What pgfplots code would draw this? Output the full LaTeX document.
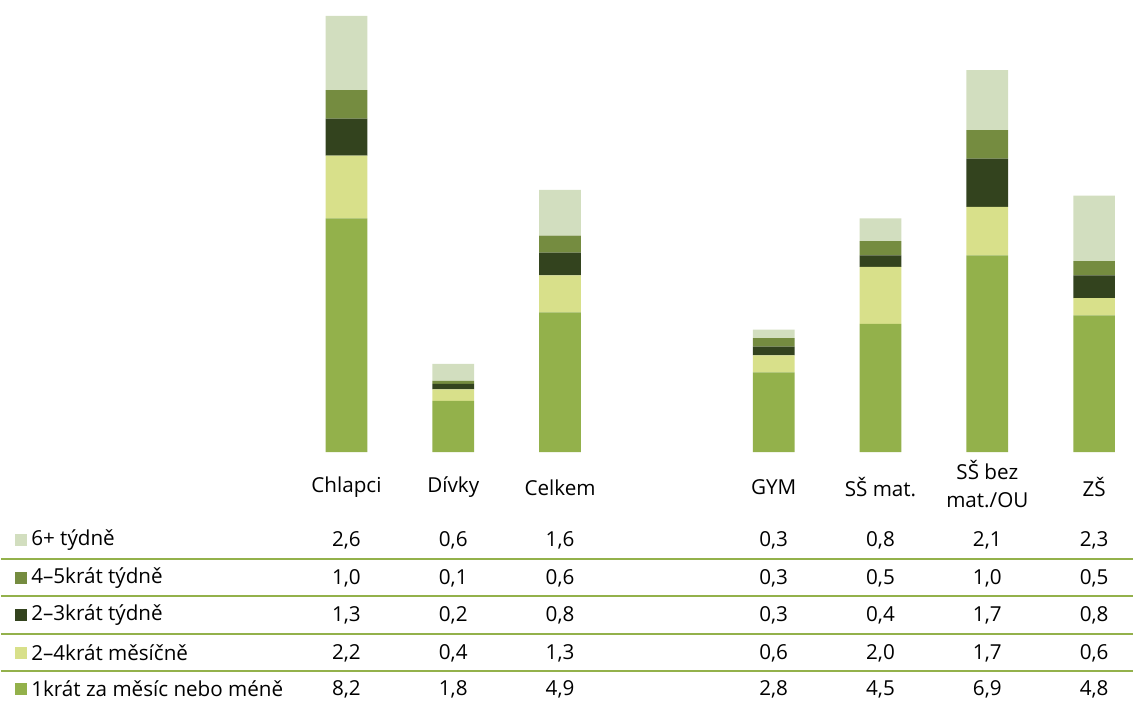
\documentclass[border=0pt]{standalone}
\usepackage{pgfplots}
\pgfplotsset{compat=1.18}
\usepackage{pgfplotstable}
\usepackage{fontspec}
\setmainfont{Open Sans}

\definecolor{cA}{HTML}{93B14B}
\definecolor{cB}{HTML}{D8E08A}
\definecolor{cC}{HTML}{33431E}
\definecolor{cD}{HTML}{758C40}
\definecolor{cE}{HTML}{D2DEBF}

\pgfplotstableread{
x a b c d e
0 8.2 2.2 1.3 1.0 2.6
1 1.8 0.4 0.2 0.1 0.6
2 4.9 1.3 0.8 0.6 1.6
4 2.8 0.6 0.3 0.3 0.3
5 4.5 2.0 0.4 0.5 0.8
6 6.9 1.7 1.7 1.0 2.1
7 4.8 0.6 0.8 0.5 2.3
}\data

\begin{document}
\fontsize{15.5}{21}\selectfont
\begin{tikzpicture}[font=\fontsize{15.5}{21}\selectfont]
\begin{axis}[at={(0,0)}, anchor=south west, scale only axis,
  width=850.5pt, height=339.75pt,
  xmin=-3.234, xmax=7.364, ymin=0, ymax=15.86,
  hide axis, ybar stacked, bar width=0.39, clip=false]
\path (rel axis cs:0,0) -- (rel axis cs:1,1);
\addplot[fill=cA, draw=none] table[x=x,y=a]{\data};
\addplot[fill=cB, draw=none] table[x=x,y=b]{\data};
\addplot[fill=cC, draw=none] table[x=x,y=c]{\data};
\addplot[fill=cD, draw=none] table[x=x,y=d]{\data};
\addplot[fill=cE, draw=none] table[x=x,y=e]{\data};
\end{axis}
\begin{axis}[at={(0,0)}, anchor=north west, scale only axis,
  width=850.5pt, height=184.5pt,
  xmin=-3.234, xmax=7.364, ymin=-8.61, ymax=0,
  hide axis, clip=false,
  /pgf/number format/.cd, use comma, fixed, fixed zerofill, precision=1, assume math mode=true,
  /pgfplots/.cd,
  every node near coord/.append style={anchor=center, font=\fontsize{15.5}{21}\selectfont}]
\path (rel axis cs:0,0) -- (rel axis cs:1,1);
\addplot[draw=none, mark=none, nodes near coords, point meta=explicit] table[x=x, y expr=-3.08, meta=e]{\data};
\addplot[draw=none, mark=none, nodes near coords, point meta=explicit] table[x=x, y expr=-4.41, meta=d]{\data};
\addplot[draw=none, mark=none, nodes near coords, point meta=explicit] table[x=x, y expr=-5.71, meta=c]{\data};
\addplot[draw=none, mark=none, nodes near coords, point meta=explicit] table[x=x, y expr=-7.04, meta=b]{\data};
\addplot[draw=none, mark=none, nodes near coords, point meta=explicit] table[x=x, y expr=-8.30, meta=a]{\data};
\draw[cA, line width=1.5pt] (axis cs:-3.234,-3.75) -- (axis cs:7.364,-3.75);
\draw[cA, line width=1.5pt] (axis cs:-3.234,-5.04) -- (axis cs:7.364,-5.04);
\draw[cA, line width=1.5pt] (axis cs:-3.234,-6.37) -- (axis cs:7.364,-6.37);
\draw[cA, line width=1.5pt] (axis cs:-3.234,-7.67) -- (axis cs:7.364,-7.67);
\node at (axis cs:0,-1.23) {Chlapci};
\node at (axis cs:1,-1.23) {Dívky};
\node at (axis cs:2,-1.23) {Celkem};
\node at (axis cs:4,-1.23) {GYM};
\node at (axis cs:5,-1.23) {SŠ mat.};
\node[align=center, inner sep=0pt] at (axis cs:6,-1.12) {SŠ bez\\mat./OU};
\node at (axis cs:7,-1.23) {ZŠ};
\node[fill=cE, minimum size=9pt, inner sep=0pt] at (axis cs:-3.047,-3.08) {};
\node[fill=cD, minimum size=9pt, inner sep=0pt] at (axis cs:-3.047,-4.41) {};
\node[fill=cC, minimum size=9pt, inner sep=0pt] at (axis cs:-3.047,-5.71) {};
\node[fill=cB, minimum size=9pt, inner sep=0pt] at (axis cs:-3.047,-7.04) {};
\node[fill=cA, minimum size=9pt, inner sep=0pt] at (axis cs:-3.047,-8.30) {};
\node[anchor=west, inner sep=0pt] at (axis cs:-2.953,-3.08) {6+ týdně};
\node[anchor=west, inner sep=0pt] at (axis cs:-2.953,-4.41) {4–5krát týdně};
\node[anchor=west, inner sep=0pt] at (axis cs:-2.953,-5.71) {2–3krát týdně};
\node[anchor=west, inner sep=0pt] at (axis cs:-2.953,-7.04) {2–4krát měsíčně};
\node[anchor=west, inner sep=0pt] at (axis cs:-2.953,-8.30) {1krát za měsíc nebo méně};
\end{axis}
\end{tikzpicture}
\end{document}
